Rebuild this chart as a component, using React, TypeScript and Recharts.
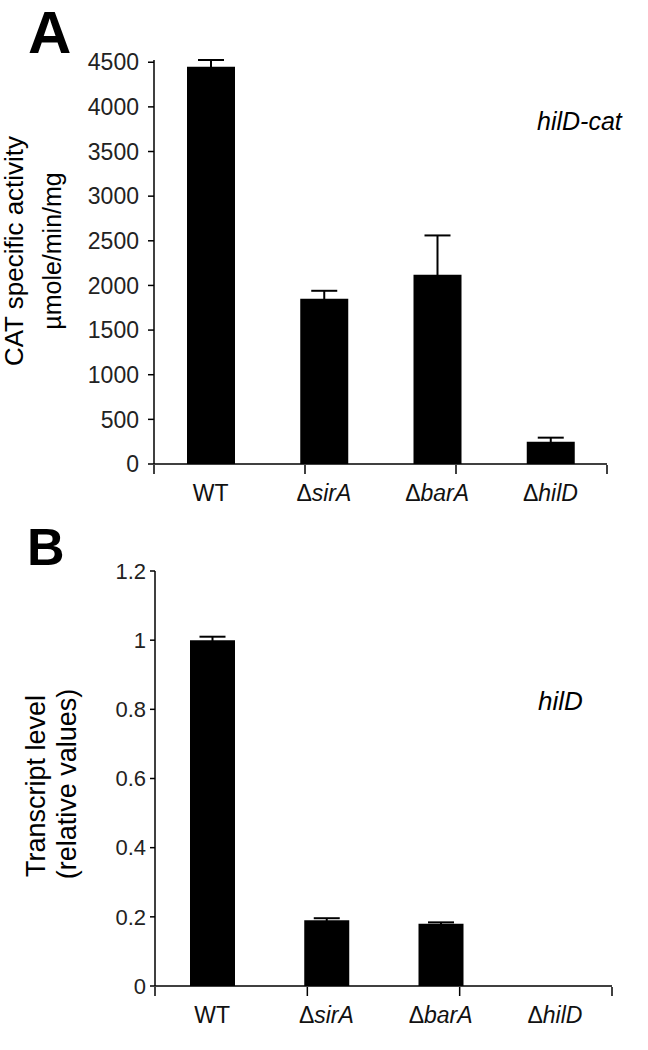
import { BarChart, Bar, XAxis, YAxis, ErrorBar } from "recharts";

const strains = ["WT", "ΔsirA", "ΔbarA", "ΔhilD"];

// panel A: CAT specific activity (µmole/min/mg)
const catActivity = [4450, 1850, 2120, 250];
const catError = [75, 90, 440, 45];
const catTicks = [0, 500, 1000, 1500, 2000, 2500, 3000, 3500, 4000, 4500];

// panel B: transcript level (relative values)
const transcript = [1.0, 0.19, 0.18, 0];
const transcriptError = [0.01, 0.006, 0.004, 0];
const transcriptTicks = [0, 0.2, 0.4, 0.6, 0.8, 1, 1.2];

// category boundaries, where the x axis has its tick marks
const edgeTicks = [0, 1, 2, 3, 4];

const FONT = "'Liberation Sans', Arial, sans-serif";

const dataA = strains.map((s, i) => ({ strain: s, value: catActivity[i], err: catError[i] }));
const dataB = strains.map((s, i) => ({ strain: s, value: transcript[i], err: transcriptError[i] }));

function StrainTick({ x, y, payload }: any) {
  const label: string = payload.value;
  const hasDelta = label.startsWith("Δ");
  return (
    <text x={x} y={y} dy="0.71em" textAnchor="middle" fontFamily={FONT} fontSize={23} fill="#111">
      {hasDelta ? (
        <>
          <tspan>Δ</tspan>
          <tspan fontStyle="italic">{label.slice(1)}</tspan>
        </>
      ) : (
        label
      )}
    </text>
  );
}

function Panel({
  data,
  ticks,
  max,
  top,
  right,
  bottom,
  yWidth,
  barSize,
  tickFont,
  yTickSize,
  yTickMargin,
}: any) {
  return (
    <BarChart
      width={648}
      height={525}
      data={data}
      margin={{ top, right, bottom, left: 0 }}
      barCategoryGap={0}
    >
      <XAxis
        dataKey="strain"
        height={1}
        tick={<StrainTick />}
        tickLine={false}
        tickSize={10}
        tickMargin={11}
        axisLine={{ stroke: "#000", strokeWidth: 1.5 }}
      />
      <XAxis
        xAxisId="edges"
        type="number"
        domain={[0, 4]}
        ticks={edgeTicks}
        interval={0}
        allowDataOverflow
        tickFormatter={() => ""}
        height={39}
        axisLine={false}
        tickLine={{ stroke: "#000", strokeWidth: 1.5 }}
        tickSize={9}
      />
      <YAxis
        width={yWidth}
        domain={[0, max]}
        ticks={ticks}
        interval={0}
        tickSize={yTickSize}
        tickMargin={yTickMargin}
        tickLine={{ stroke: "#000", strokeWidth: 1.5 }}
        axisLine={{ stroke: "#000", strokeWidth: 1.5 }}
        tick={{ fontFamily: FONT, fontSize: tickFont, fill: "#222" }}
        tickFormatter={(v: number) => String(v)}
      />
      <Bar dataKey="value" fill="#000" barSize={barSize} isAnimationActive={false}>
        <ErrorBar dataKey="err" width={13} stroke="#000" strokeWidth={2} direction="y" />
      </Bar>
    </BarChart>
  );
}

export default function App() {
  return (
    <div style={{ position: "absolute", left: 0, top: 0, width: 648, height: 1050, background: "#fff" }}>
      <div style={{ position: "absolute", left: 0, top: 0 }}>
        <Panel
          data={dataA}
          ticks={catTicks}
          max={4500}
          top={60}
          right={41}
          bottom={21}
          yWidth={154}
          barSize={48}
          tickFont={23}
          yTickSize={6}
          yTickMargin={9}
        />
      </div>
      <div style={{ position: "absolute", left: 0, top: 525 }}>
        <Panel
          data={dataB}
          ticks={transcriptTicks}
          max={1.2}
          top={46}
          right={36}
          bottom={24}
          yWidth={155}
          barSize={45}
          tickFont={22}
          yTickSize={5}
          yTickMargin={4}
        />
      </div>
      <svg
        width={648}
        height={1050}
        style={{ position: "absolute", left: 0, top: 0, pointerEvents: "none" }}
        fontFamily={FONT}
      >
        <text x={28} y={53} fontSize={60} fontWeight="bold">A</text>
        <text x={27} y={565} fontSize={52} fontWeight="bold">B</text>
        <text x={537} y={130} fontSize={25} fontStyle="italic">hilD-cat</text>
        <text x={538} y={710} fontSize={26} fontStyle="italic">hilD</text>
        <text x={23} y={251} fontSize={26} textAnchor="middle" transform="rotate(-90 23 251)">
          CAT specific activity
        </text>
        <text x={61} y={251} fontSize={25} textAnchor="middle" transform="rotate(-90 61 251)">
          µmole/min/mg
        </text>
        <text x={45} y={786} fontSize={27} textAnchor="middle" transform="rotate(-90 45 786)">
          Transcript level
        </text>
        <text x={76} y={784} fontSize={27} textAnchor="middle" transform="rotate(-90 76 784)">
          (relative values)
        </text>
      </svg>
    </div>
  );
}
